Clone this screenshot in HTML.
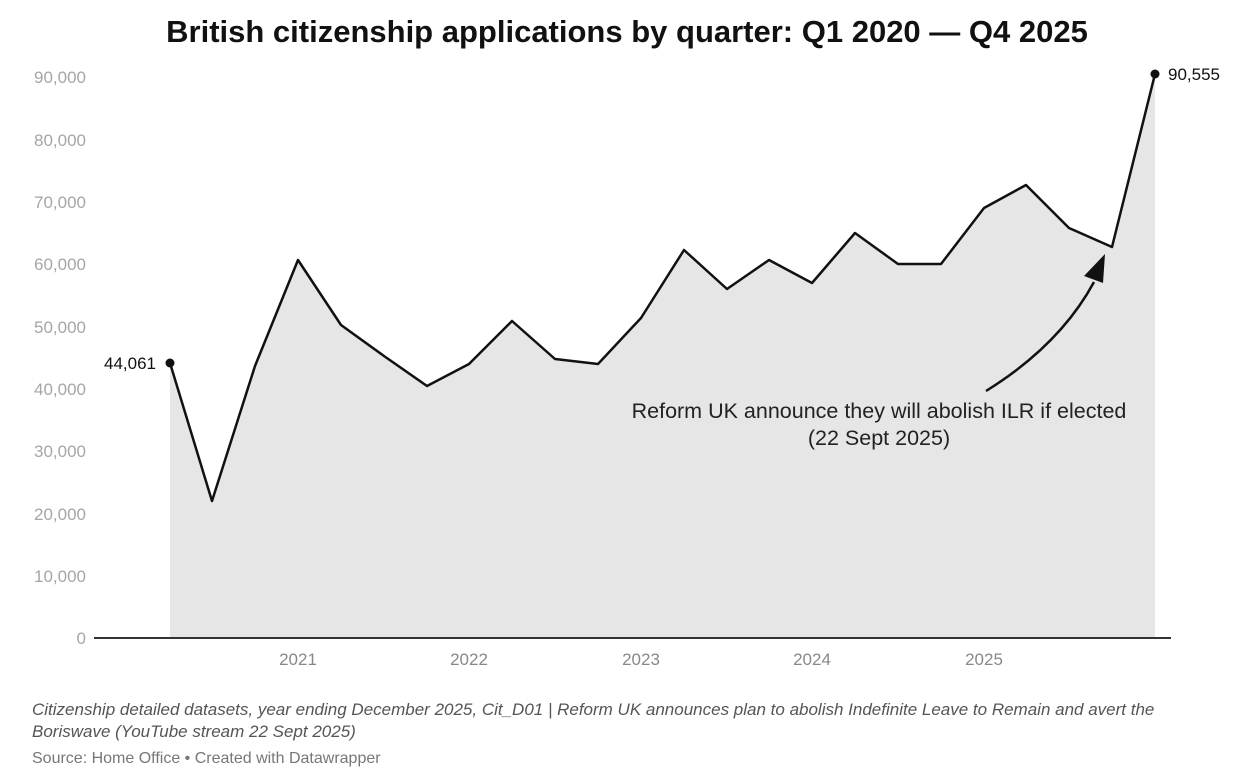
<!DOCTYPE html>
<html><head><style>
body{margin:0;background:#fff;width:1246px;height:778px;overflow:hidden;font-family:"Liberation Sans",sans-serif}
</style></head><body>
<svg width="1246" height="778" xmlns="http://www.w3.org/2000/svg" font-family="Liberation Sans, sans-serif">
<text x="627" y="42" text-anchor="middle" font-size="31" font-weight="bold" fill="#111">British citizenship applications by quarter: Q1 2020 — Q4 2025</text>
<g font-size="17" fill="#a6a6a6" text-anchor="end">
<text x="86" y="83">90,000</text><text x="86" y="146">80,000</text><text x="86" y="208">70,000</text>
<text x="86" y="270">60,000</text><text x="86" y="333">50,000</text><text x="86" y="395">40,000</text>
<text x="86" y="457">30,000</text><text x="86" y="520">20,000</text><text x="86" y="582">10,000</text>
<text x="86" y="644">0</text>
</g>
<polygon fill="#e6e6e6" points="170,638 170,363 212,501 255,366 298,260 341,325 384,356 427,386 469,364 512,321 555,359 598,364 641,318 684,250 727,289 769,260 812,283 855,233 898,264 941,264 984,208 1026,185 1069,228 1112,247 1155,74 1155,638"/>
<polyline fill="none" stroke="#111" stroke-width="2.5" stroke-linejoin="round" points="170,363 212,501 255,366 298,260 341,325 384,356 427,386 469,364 512,321 555,359 598,364 641,318 684,250 727,289 769,260 812,283 855,233 898,264 941,264 984,208 1026,185 1069,228 1112,247 1155,74"/>
<line x1="94" y1="638" x2="1171" y2="638" stroke="#333" stroke-width="2"/>
<circle cx="170" cy="363" r="4.5" fill="#111"/><circle cx="1155" cy="74" r="4.5" fill="#111"/>
<text x="156" y="369" text-anchor="end" font-size="17" fill="#111">44,061</text>
<text x="1168" y="80" font-size="17" fill="#111">90,555</text>
<g font-size="17" fill="#888" text-anchor="middle">
<text x="298" y="665">2021</text><text x="469" y="665">2022</text><text x="641" y="665">2023</text><text x="812" y="665">2024</text><text x="984" y="665">2025</text>
</g>
<path d="M986,391 Q1060,345 1094,282" fill="none" stroke="#111" stroke-width="2.5"/>
<polygon points="1105,254 1084,276 1103,283" fill="#111"/>
<text x="879" y="418" text-anchor="middle" font-size="21.5" fill="#222">Reform UK announce they will abolish ILR if elected</text>
<text x="879" y="445" text-anchor="middle" font-size="21.5" fill="#222">(22 Sept 2025)</text>
<g font-size="17" fill="#555" font-style="italic">
<text x="32" y="715">Citizenship detailed datasets, year ending December 2025, Cit_D01 | Reform UK announces plan to abolish Indefinite Leave to Remain and avert the</text>
<text x="32" y="737">Boriswave (YouTube stream 22 Sept 2025)</text>
</g>
<text x="32" y="763" font-size="16" fill="#777">Source: Home Office • Created with Datawrapper</text>
</svg>
</body></html>
